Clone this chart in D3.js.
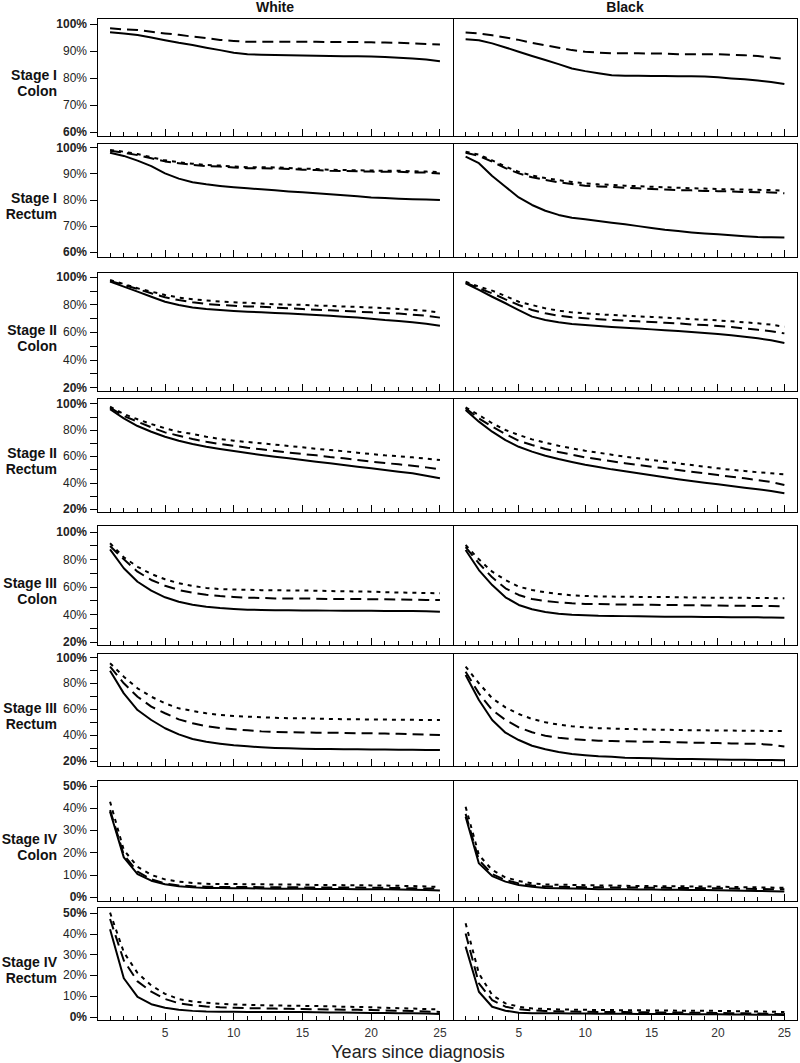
<!DOCTYPE html>
<html><head><meta charset="utf-8">
<script src="https://cdn.jsdelivr.net/npm/d3@7"></script>
<style>body{margin:0;background:#fff}svg{display:block}</style>
</head><body>
<svg id="chart" width="800" height="1063"></svg>
<script>
// ---------------- DATA ----------------
const years = [1,2,3,4,5,6,7,8,9,10,11,12,13,14,15,16,17,18,19,20,21,22,23,24,25];
const columns = ["White","Black"];
const rowLabels = [["Stage I","Colon"],["Stage I","Rectum"],["Stage II","Colon"],["Stage II","Rectum"],
                   ["Stage III","Colon"],["Stage III","Rectum"],["Stage IV","Colon"],["Stage IV","Rectum"]];
const xTickLabels = [5,10,15,20,25];
const yTicksStageI   = [60,70,80,90,100];
const yLabelsStageI  = [60,70,80,90,100];
const yTicksStageII  = [20,30,40,50,60,70,80,90,100];
const yLabelsStageII = [20,40,60,80,100];
const yTicksStageIV  = [0,10,20,30,40,50];
const yLabelsStageIV = [0,10,20,30,40,50];

// each panel: [solid, dashed, dotted] survival (%) by year since diagnosis
const s1ColonWhite = [
 [96.9,96.5,95.9,95.0,94.0,93.0,92.2,91.2,90.3,89.3,88.8,88.6,88.5,88.4,88.3,88.2,88.1,88.0,88.0,87.9,87.7,87.5,87.2,86.8,86.2],
 [98.4,98.0,97.8,97.1,96.5,96.0,95.3,94.8,94.1,93.7,93.4,93.4,93.4,93.4,93.4,93.4,93.3,93.3,93.3,93.2,93.1,93.0,92.8,92.6,92.4],
 null];
const s1ColonBlack = [
 [94.3,94.0,92.8,91.3,89.7,88.1,86.6,85.1,83.5,82.5,81.7,81.0,80.8,80.8,80.7,80.7,80.6,80.6,80.5,80.2,79.8,79.5,79.0,78.5,77.7],
 [96.8,96.5,95.8,95.0,94.1,93.0,92.1,91.2,90.3,89.7,89.4,89.1,89.1,89.1,89.0,89.0,88.8,88.8,88.8,88.8,88.6,88.4,88.1,87.6,87.0],
 null];
const s1RectumWhite = [
 [97.9,96.7,94.9,92.8,90.0,88.0,86.6,85.8,85.2,84.7,84.3,83.9,83.5,83.1,82.8,82.4,82.0,81.6,81.2,80.8,80.6,80.3,80.1,80.0,79.8],
 [98.7,97.9,97.0,95.8,94.6,93.9,93.3,92.8,92.6,92.3,92.0,92.0,91.9,91.7,91.4,91.3,91.0,90.9,90.8,90.7,90.6,90.6,90.4,90.3,90.0],
 [99.0,98.3,97.4,96.2,95.0,94.3,93.7,93.2,93.0,92.7,92.4,92.4,92.3,92.1,91.8,91.7,91.4,91.3,91.2,91.1,91.0,91.0,90.8,90.7,90.5]];
const s1RectumBlack = [
 [96.4,93.9,89.0,84.9,80.8,77.9,75.7,74.1,73.0,72.4,71.8,71.1,70.5,69.8,69.1,68.4,67.9,67.4,67.0,66.7,66.3,65.9,65.6,65.5,65.4],
 [97.9,96.7,94.5,92.0,90.0,88.5,87.5,86.6,85.9,85.3,85.0,84.8,84.5,84.3,84.0,83.8,83.6,83.5,83.3,83.2,83.1,82.9,82.8,82.7,82.4],
 [98.3,97.2,95.0,92.6,90.6,89.2,88.2,87.4,86.7,86.2,85.8,85.6,85.3,85.1,84.9,84.7,84.5,84.3,84.2,84.0,83.9,83.8,83.7,83.6,83.4]];
const s2ColonWhite = [
 [96.4,92.8,89.2,85.5,81.9,79.5,77.8,76.6,75.9,75.2,74.7,74.2,73.7,73.3,72.8,72.3,71.8,71.1,70.4,69.6,68.6,68.0,67.0,66.0,64.6],
 [96.9,94.0,91.1,88.0,85.1,83.1,81.5,80.3,79.5,79.0,78.5,78.2,77.7,77.1,76.6,76.1,75.7,75.2,74.7,74.2,73.7,73.3,72.5,71.8,70.4],
 [97.6,94.7,91.6,89.2,86.8,84.9,83.7,82.8,82.0,81.5,81.1,80.6,80.1,79.8,79.6,79.1,78.9,78.4,78.2,77.7,77.2,76.7,76.0,75.3,74.0]];
const s2ColonBlack = [
 [95.2,90.4,85.5,80.8,75.9,71.1,68.7,67.0,65.8,65.1,64.3,63.6,63.1,62.6,61.9,61.2,60.7,60.0,59.3,58.6,57.6,56.6,55.4,54.0,52.0],
 [95.7,91.6,88.0,83.6,79.5,75.9,73.5,71.8,70.6,69.9,69.2,68.7,68.2,67.7,67.2,66.7,66.3,65.5,65.1,64.3,63.6,62.6,61.6,60.5,59.0],
 [96.4,92.8,89.9,86.0,81.9,79.5,77.1,75.4,74.2,73.5,72.8,72.3,71.8,71.3,70.9,70.4,69.9,69.4,68.9,68.4,67.7,67.0,66.3,65.3,63.8]];
const s2RectumWhite = [
 [95.5,88.6,82.8,78.5,74.7,71.7,69.2,67.1,65.4,63.9,62.4,60.9,59.6,58.4,57.1,55.8,54.6,53.3,52.0,50.8,49.5,48.2,47.0,45.2,43.2],
 [96.7,90.4,86.1,81.8,78.0,75.5,73.0,70.9,69.2,67.9,66.4,65.2,63.9,62.6,61.6,60.6,59.3,58.4,57.1,55.8,54.8,53.8,52.8,51.5,50.0],
 [97.4,91.9,87.9,84.3,81.1,78.5,76.8,74.7,73.0,71.7,70.7,69.7,68.7,67.7,66.7,65.6,64.6,63.7,62.6,61.6,60.6,59.9,59.1,58.1,57.1]];
const s2RectumBlack = [
 [94.9,86.1,78.5,72.2,67.1,63.4,60.3,57.8,55.6,53.5,51.8,50.0,48.5,47.0,45.5,44.0,42.5,41.2,39.9,38.7,37.4,36.1,34.9,33.6,31.9],
 [96.2,88.6,82.3,76.8,71.7,68.4,65.4,63.1,61.1,59.1,57.6,56.1,54.6,53.3,52.0,50.8,49.5,48.2,47.0,45.7,44.4,43.2,41.9,40.4,38.2],
 [97.0,91.1,84.9,79.8,76.0,72.7,70.2,67.9,65.9,64.1,62.6,61.1,59.6,58.4,57.1,55.8,54.6,53.3,52.0,50.8,49.7,48.8,47.8,47.0,46.3]];
const s3ColonWhite = [
 [87.2,73.4,63.6,57.1,52.3,49.1,46.9,45.5,44.5,43.8,43.3,43.1,42.9,42.9,42.7,42.7,42.6,42.6,42.6,42.5,42.4,42.4,42.3,42.2,41.8],
 [89.6,79.9,70.9,64.9,60.7,57.6,55.6,54.2,53.2,52.5,52.0,51.8,51.5,51.5,51.4,51.3,51.1,51.0,51.0,50.9,50.8,50.7,50.5,50.4,50.3],
 [91.6,81.4,74.5,69.2,65.4,62.5,60.5,59.1,58.3,57.9,57.8,57.5,57.4,57.3,57.2,57.1,56.8,56.7,56.5,56.4,56.0,55.8,55.6,55.4,55.2]];
const s3ColonBlack = [
 [86.7,72.1,61.2,52.3,46.7,43.6,41.6,40.4,39.6,39.2,38.8,38.7,38.6,38.5,38.3,38.2,38.2,38.1,38.0,38.0,37.8,37.7,37.7,37.6,37.5],
 [88.7,77.0,66.8,58.8,54.0,51.0,49.6,48.6,47.9,47.5,47.4,47.2,47.0,46.9,46.8,46.7,46.6,46.5,46.4,46.3,46.2,46.1,46.0,45.9,45.8],
 [90.3,79.9,70.9,64.9,60.0,57.6,55.9,54.7,53.7,53.3,52.9,52.8,52.7,52.6,52.5,52.5,52.3,52.2,52.1,52.0,52.0,51.9,51.8,51.7,51.6]];
const s3RectumWhite = [
 [89.6,72.1,59.2,51.5,45.1,40.4,36.8,34.7,33.2,31.9,31.1,30.4,29.9,29.6,29.3,29.1,29.0,28.9,28.8,28.7,28.6,28.5,28.4,28.3,28.2],
 [92.8,79.9,69.5,61.8,56.7,52.0,48.9,46.8,45.3,44.3,43.5,42.7,42.2,42.0,41.8,41.7,41.6,41.5,41.3,41.2,41.0,40.8,40.5,40.2,39.9],
 [95.4,85.0,76.0,69.5,64.4,60.5,58.5,56.7,55.4,54.6,54.1,53.6,53.2,52.9,52.8,52.6,52.3,52.1,52.0,51.9,51.8,51.7,51.6,51.5,51.4]];
const s3RectumBlack = [
 [86.3,67.0,51.5,41.7,36.0,31.6,28.8,26.7,25.2,24.2,23.4,23.0,22.3,22.0,21.8,21.6,21.4,21.3,21.1,21.0,20.8,20.7,20.6,20.5,20.4],
 [88.9,72.1,59.2,51.5,45.8,42.0,39.3,37.8,36.8,36.0,35.5,35.2,35.0,34.8,34.6,34.4,34.2,34.0,33.8,33.6,33.4,33.2,33.0,32.4,31.0],
 [92.8,79.9,68.3,61.3,56.1,52.3,49.7,47.9,46.6,45.8,45.2,44.9,44.6,44.4,44.1,43.9,43.8,43.6,43.5,43.4,43.3,43.2,43.1,43.0,43.0]];
const s4ColonWhite = [
 [38.3,17.7,10.2,7.2,5.6,4.7,4.2,3.9,3.9,3.8,3.8,3.7,3.6,3.6,3.6,3.5,3.5,3.5,3.4,3.4,3.3,3.2,3.1,3.0,2.8],
 [39.0,18.8,11.3,7.8,6.0,5.1,4.7,4.5,4.4,4.4,4.4,4.3,4.3,4.3,4.2,4.2,4.2,4.1,4.1,4.0,4.0,3.9,3.8,3.7,3.6],
 [42.8,21.0,13.5,9.8,7.8,6.8,6.2,5.8,5.7,5.7,5.6,5.6,5.5,5.5,5.4,5.3,5.3,5.2,5.2,5.1,5.0,4.9,4.8,4.6,4.4]];
const s4ColonBlack = [
 [36.0,15.0,9.3,6.8,5.3,4.5,3.9,3.8,3.7,3.6,3.4,3.3,3.3,3.2,3.2,3.1,3.1,3.0,3.0,2.9,2.8,2.7,2.6,2.5,2.3],
 [37.3,16.5,10.2,7.5,6.0,5.1,4.6,4.5,4.4,4.3,4.3,4.2,4.1,4.1,4.0,4.0,3.9,3.9,3.8,3.8,3.7,3.6,3.5,3.4,3.3],
 [40.5,18.8,12.0,8.7,7.1,6.0,5.5,5.4,5.3,5.2,5.1,5.0,4.9,4.8,4.8,4.7,4.7,4.6,4.6,4.5,4.4,4.3,4.2,4.1,4.0]];
const s4RectumWhite = [
 [42.0,18.5,9.5,6.0,4.3,3.3,2.8,2.5,2.4,2.4,2.3,2.3,2.2,2.2,2.2,2.1,2.0,2.0,1.9,1.8,1.8,1.7,1.6,1.5,1.3],
 [47.0,27.0,17.0,12.0,8.5,6.5,5.5,4.9,4.5,4.3,4.1,4.0,3.9,3.8,3.7,3.6,3.5,3.4,3.3,3.2,3.0,2.9,2.7,2.5,2.3],
 [50.0,31.0,21.0,15.0,11.0,8.5,7.3,6.7,6.2,5.9,5.7,5.5,5.4,5.3,5.2,5.1,5.0,4.8,4.7,4.5,4.3,4.1,3.9,3.7,3.5]];
const s4RectumBlack = [
 [33.7,12.0,4.8,2.9,1.9,1.7,1.6,1.6,1.5,1.5,1.4,1.4,1.4,1.3,1.3,1.3,1.3,1.2,1.2,1.2,1.1,1.0,0.9,0.9,0.8],
 [40.0,16.0,8.0,4.8,3.6,3.0,2.8,2.6,2.5,2.4,2.3,2.2,2.2,2.1,2.1,2.0,2.0,1.9,1.9,1.8,1.7,1.6,1.5,1.4,1.2],
 [44.9,20.8,10.4,6.4,4.8,4.0,3.7,3.5,3.4,3.3,3.2,3.2,3.1,3.1,3.0,3.0,2.9,2.9,2.9,2.8,2.7,2.6,2.5,2.4,2.2]];

const panelData = [
 [s1ColonWhite, s1ColonBlack], [s1RectumWhite, s1RectumBlack],
 [s2ColonWhite, s2ColonBlack], [s2RectumWhite, s2RectumBlack],
 [s3ColonWhite, s3ColonBlack], [s3RectumWhite, s3RectumBlack],
 [s4ColonWhite, s4ColonBlack], [s4RectumWhite, s4RectumBlack]];
const rowTicks  = [yTicksStageI, yTicksStageI, yTicksStageII, yTicksStageII, yTicksStageII, yTicksStageII, yTicksStageIV, yTicksStageIV];
const rowLabelsY = [yLabelsStageI, yLabelsStageI, yLabelsStageII, yLabelsStageII, yLabelsStageII, yLabelsStageII, yLabelsStageIV, yLabelsStageIV];

// ---------------- LAYOUT ----------------
const FONT = "'Liberation Sans', Arial, Helvetica, sans-serif";
const colFrames = [[97, 453], [453, 797]];
const xDomain = [0.05, 25.95];
// [frameTop, frameBottom, pixel of lowest tick, pixel of highest tick]
const rowFrames = [
 [18, 136, 131.7, 24],
 [143, 257, 251.7, 147.3],
 [272, 391, 387.3, 276.7],
 [398, 512, 509, 403.3],
 [525, 645, 641.7, 531.7],
 [653, 766, 760.7, 657.3],
 [780, 901, 896.7, 785.7],
 [907, 1020, 1016.7, 912.7]];
const dashStyles = [null, "11,6", "4,5"];

const svg = d3.select("#chart");
svg.append("rect").attr("width", 800).attr("height", 1063).attr("fill", "#fff");

const xScales = colFrames.map(f => d3.scaleLinear().domain(xDomain).range(f));

// column headers
columns.forEach((c, ci) => {
  svg.append("text").attr("x", (colFrames[ci][0] + colFrames[ci][1]) / 2).attr("y", 12)
    .attr("text-anchor", "middle").attr("font-family", FONT).attr("font-size", 14)
    .attr("font-weight", "bold").attr("fill", "#111").text(c);
});

const defs = svg.append("defs");

rowFrames.forEach((rf, ri) => {
  const ticks = rowTicks[ri];
  const y = d3.scaleLinear().domain([ticks[0], ticks[ticks.length - 1]]).range([rf[2], rf[3]]);
  const mid = (rf[0] + rf[1]) / 2;

  // row label (two separate lines)
  [0, 1].forEach(k => {
    svg.append("text").attr("text-anchor", "end").attr("font-family", FONT)
      .attr("font-size", 14).attr("font-weight", "bold").attr("fill", "#111")
      .attr("x", 57).attr("y", mid + 3 + k * 16).text(rowLabels[ri][k]);
  });

  // y axis (left column only)
  const labelled = rowLabelsY[ri];
  const yAxis = d3.axisLeft(y).tickValues(ticks).tickSize(7).tickPadding(3)
    .tickFormat(v => labelled.includes(v) ? v + "%" : "");
  const ga = svg.append("g").attr("transform", `translate(${colFrames[0][0]},0)`).call(yAxis);
  ga.select(".domain").remove();
  ga.selectAll(".tick line").attr("stroke", "#000").attr("shape-rendering", "crispEdges");
  ga.selectAll(".tick text").attr("font-family", FONT).attr("font-size", 12).attr("fill", "#222")
    .attr("font-weight", v => (v === ticks[0] || v === ticks[ticks.length - 1]) ? "bold" : "normal");

  colFrames.forEach((cf, ci) => {
    const x = xScales[ci];
    const id = `clip-${ri}-${ci}`;
    defs.append("clipPath").attr("id", id).append("rect")
      .attr("x", cf[0]).attr("y", rf[0]).attr("width", cf[1] - cf[0]).attr("height", rf[1] - rf[0]);
    const g = svg.append("g");

    // x ticks (inward)
    g.selectAll("line.xt").data(years).join("line")
      .attr("x1", d => x(d)).attr("x2", d => x(d))
      .attr("y1", rf[1]).attr("y2", d => rf[1] - (d % 5 === 0 ? 7 : 4))
      .attr("stroke", "#000").attr("stroke-width", 1).attr("shape-rendering", "crispEdges");

    // lines
    const line = d3.line().x((d, i) => x(years[i])).y(d => y(d));
    const series = panelData[ri][ci];
    series.forEach((s, si) => {
      if (!s) return;
      g.append("path").attr("d", line(s)).attr("fill", "none").attr("stroke", "#000")
        .attr("stroke-width", 2).attr("stroke-dasharray", dashStyles[si])
        .attr("stroke-linejoin", "round").attr("clip-path", `url(#${id})`);
    });

    // frame
    g.append("rect").attr("x", cf[0]).attr("y", rf[0]).attr("width", cf[1] - cf[0]).attr("height", rf[1] - rf[0])
      .attr("fill", "none").attr("stroke", "#000").attr("stroke-width", 1).attr("shape-rendering", "crispEdges");

    // x tick labels on bottom row
    if (ri === rowFrames.length - 1) {
      g.selectAll("text.xl").data(xTickLabels).join("text")
        .attr("x", d => x(d)).attr("y", rf[1] + 17).attr("text-anchor", "middle")
        .attr("font-family", FONT).attr("font-size", 12).attr("fill", "#333").text(d => d);
    }
  });
});

svg.append("text").attr("x", 418).attr("y", 1058).attr("text-anchor", "middle")
  .attr("font-family", FONT).attr("font-size", 18).attr("fill", "#222").text("Years since diagnosis");
</script>
</body></html>
